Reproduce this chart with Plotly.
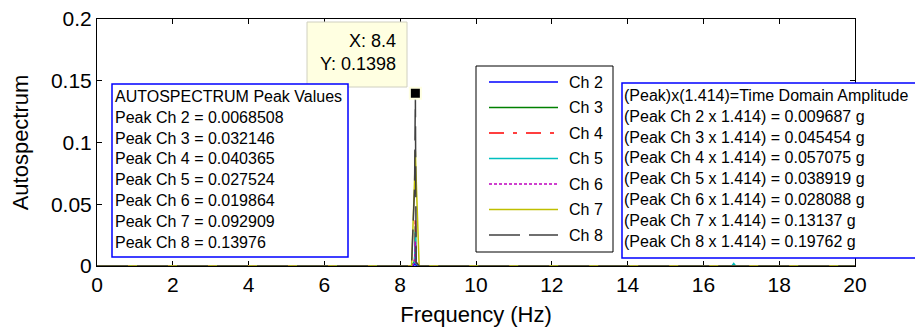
import plotly.graph_objects as go

# ---------------- data ----------------
freq = [0, 8.3, 8.38, 8.4, 8.42, 8.5, 16.75, 16.8, 16.85, 20]
channels = ["Ch 2", "Ch 3", "Ch 4", "Ch 5", "Ch 6", "Ch 7", "Ch 8"]
spec_ch2 = [0, 0, 0.0010, 0.0068508, 0.0005, 0, 0, 0, 0, 0]
spec_ch3 = [0, 0, 0.0040, 0.032146, 0.0020, 0, 0, 0, 0, 0]
spec_ch4 = [0, 0, 0.0050, 0.040365, 0.0030, 0, 0, 0, 0, 0]
spec_ch5 = [0, 0, 0.0030, 0.027524, 0.0020, 0, 0, 0.0020, 0, 0]
spec_ch6 = [0, 0, 0.0025, 0.019864, 0.0015, 0, 0, 0, 0, 0]
spec_ch7 = [0, 0, 0.0700, 0.092909, 0.0720, 0, 0, 0, 0, 0]
spec_ch8 = [0, 0, 0.0650, 0.13976, 0.0030, 0, 0, 0, 0, 0]
spectra = [spec_ch2, spec_ch3, spec_ch4, spec_ch5, spec_ch6, spec_ch7, spec_ch8]

peak_labels = ["0.0068508", "0.032146", "0.040365", "0.027524", "0.019864", "0.092909", "0.13976"]
time_amplitudes = ["0.009687", "0.045454", "0.057075", "0.038919", "0.028088", "0.13137", "0.19762"]

datatip_x = 8.4
datatip_y = 0.1398

x_ticks = [0, 2, 4, 6, 8, 10, 12, 14, 16, 18, 20]
y_ticks = [0, 0.05, 0.1, 0.15, 0.2]
y_ticktext = ["0", "0.05", "0.1", "0.15", "0.2"]

# ---------------- styles ----------------
colors = ["#0000FF", "#008000", "#FF0000", "#00BFBF", "#BF00BF", "#BFBF00", "#404040"]
dashes = ["solid", "solid", "15px,9px,4px,9px", "solid", "3px,2px", "solid", "31px,9px"]

FONT = "Liberation Sans, Arial, Helvetica, sans-serif"
W, H = 915, 330
L, R, T, B = 97, 855, 19, 266  # plot area in pixels


def px(x):
    return (x - L) / (R - L)


def py(y):
    return (B - y) / (B - T)


fig = go.Figure()
for name, ys, c, d in zip(channels, spectra, colors, dashes):
    fig.add_trace(go.Scatter(x=freq, y=ys, mode="lines", name=name,
                             line=dict(color=c, width=1.5, dash=d),
                             showlegend=False, hoverinfo="skip"))

# data tip marker
fig.add_trace(go.Scatter(x=[datatip_x], y=[datatip_y], mode="markers",
                         marker=dict(symbol="square", size=11, color="black",
                                     line=dict(color="#FFFFE1", width=2)),
                         showlegend=False, cliponaxis=False, hoverinfo="skip"))

shapes = []
annotations = []

# data tip box
shapes.append(dict(type="rect", xref="paper", yref="paper",
                   x0=px(307), x1=px(407), y0=py(87), y1=py(22),
                   fillcolor="#FFFFE1", line=dict(color="#D0D0C0", width=1), layer="above"))
annotations.append(dict(xref="paper", yref="paper", x=px(398), y=py(29),
                        xanchor="right", yanchor="top", align="right", showarrow=False,
                        text=f"X: {datatip_x}<br>Y: {datatip_y:.4f}",
                        font=dict(family=FONT, size=18, color="black")))

# left text box
shapes.append(dict(type="rect", xref="paper", yref="paper",
                   x0=px(112), x1=px(348), y0=py(257), y1=py(84),
                   fillcolor="white", line=dict(color="#0000FF", width=1.5), layer="above"))
left_lines = ["AUTOSPECTRUM Peak Values"] + [
    f"Peak {ch} = {v}" for ch, v in zip(channels, peak_labels)]
annotations.append(dict(xref="paper", yref="paper", x=px(113), y=py(86),
                        xanchor="left", yanchor="top", align="left", showarrow=False,
                        text="<br>".join(left_lines),
                        font=dict(family=FONT, size=16, color="black")))

# right text box
shapes.append(dict(type="rect", xref="paper", yref="paper",
                   x0=px(622), x1=px(940), y0=py(258), y1=py(83),
                   fillcolor="white", line=dict(color="#0000FF", width=1.5), layer="above"))
right_lines = ["(Peak)x(1.414)=Time Domain Amplitude"] + [
    f"(Peak {ch} x 1.414) = {v} g" for ch, v in zip(channels, time_amplitudes)]
annotations.append(dict(xref="paper", yref="paper", x=px(622), y=py(85),
                        xanchor="left", yanchor="top", align="left", showarrow=False,
                        text="<br>".join(right_lines),
                        font=dict(family=FONT, size=16, color="black")))

# legend box (MATLAB style)
shapes.append(dict(type="rect", xref="paper", yref="paper",
                   x0=px(476), x1=px(613), y0=py(252), y1=py(66),
                   fillcolor="white", line=dict(color="black", width=1), layer="above"))
row_y = [82, 107.5, 133, 158.5, 184, 209.5, 235]
for name, c, d, yy in zip(channels, colors, dashes, row_y):
    shapes.append(dict(type="line", xref="paper", yref="paper",
                       x0=px(489), x1=px(558), y0=py(yy), y1=py(yy),
                       line=dict(color=c, width=1.5, dash=d), layer="above"))
    annotations.append(dict(xref="paper", yref="paper", x=px(567), y=py(yy),
                            xanchor="left", yanchor="middle", showarrow=False,
                            text=name, font=dict(family=FONT, size=16, color="black")))

axis_common = dict(showline=True, linecolor="black", linewidth=1, mirror="ticks",
                   ticks="inside", ticklen=5, tickcolor="black", tickwidth=1,
                   showgrid=False, zeroline=False, layer="below traces",
                   tickfont=dict(family=FONT, size=21, color="black"))

fig.update_layout(
    width=W, height=H,
    margin=dict(l=L, r=W - R, t=T, b=H - B, autoexpand=False),
    paper_bgcolor="white", plot_bgcolor="white",
    showlegend=False,
    shapes=shapes, annotations=annotations,
    xaxis=dict(range=[0, 20], tickvals=x_ticks,
               title=dict(text="Frequency (Hz)", standoff=11,
                          font=dict(family=FONT, size=22, color="black")),
               **axis_common),
    yaxis=dict(range=[0, 0.2], tickvals=y_ticks, ticktext=y_ticktext,
               title=dict(text="Autospectrum", standoff=16,
                          font=dict(family=FONT, size=22, color="black")),
               **axis_common),
)

fig.write_html("out.html", config={"displayModeBar": False, "staticPlot": True},
               post_script="document.body.style.margin='0';document.body.style.overflow='hidden';")
